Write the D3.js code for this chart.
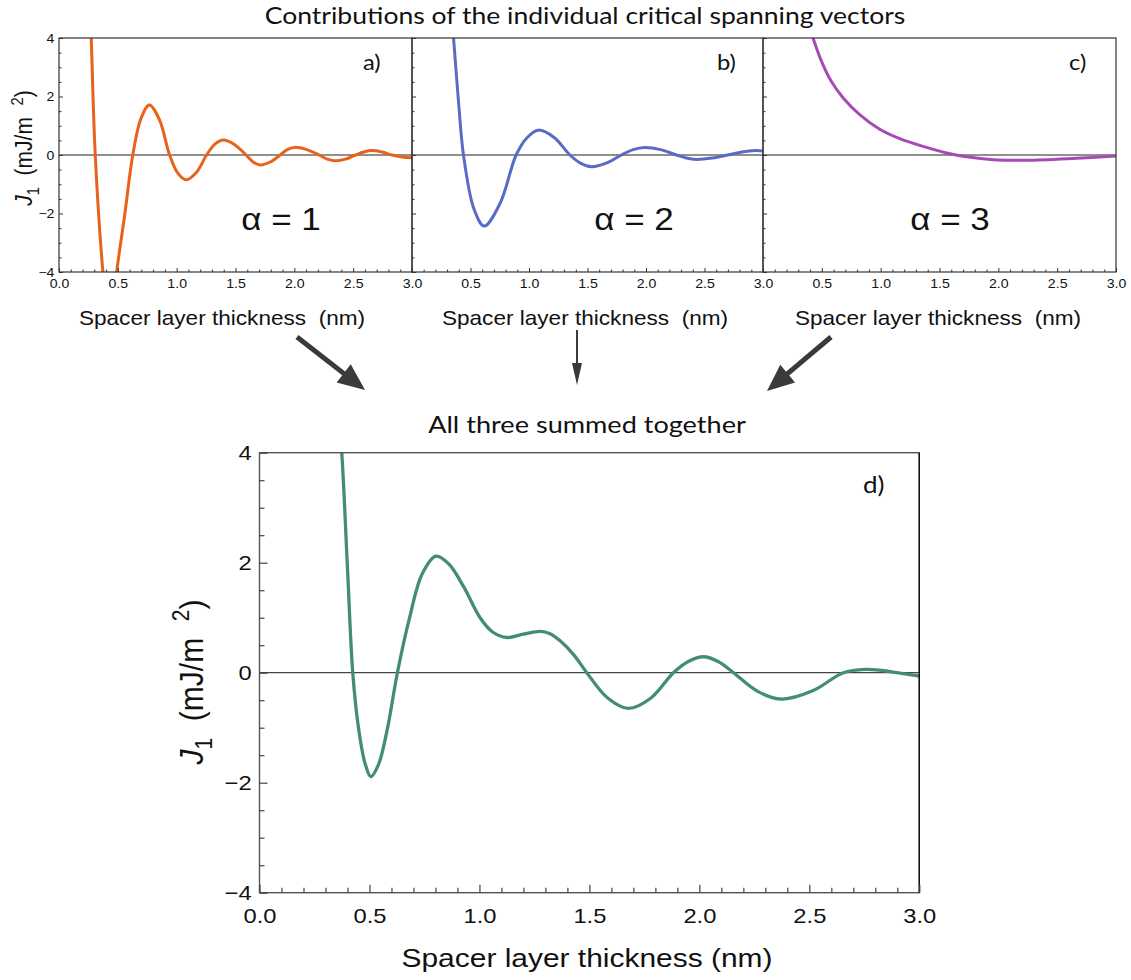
<!DOCTYPE html>
<html><head><meta charset="utf-8">
<script src="https://cdn.jsdelivr.net/npm/d3@7"></script>
<style>body{margin:0;background:#fff} svg{display:block}</style>
</head><body><svg id="c" width="1131" height="980"></svg>
<script>
// ---------- data ----------
const alpha1 = [[0.25,6.8],[0.274,4.0],[0.308,0],[0.373,-4.0],[0.43,-6.2],[0.49,-4.0],[0.56,-2.0],[0.627,0],[0.697,1.25],[0.768,1.71],[0.854,1.2],[0.94,0],[1.01,-0.62],[1.08,-0.85],[1.167,-0.6],[1.254,0],[1.325,0.37],[1.395,0.51],[1.49,0.36],[1.59,0],[1.65,-0.24],[1.71,-0.34],[1.795,-0.24],[1.88,0],[1.94,0.185],[2.0,0.26],[2.105,0.185],[2.21,0],[2.28,-0.14],[2.35,-0.2],[2.435,-0.14],[2.52,0],[2.59,0.105],[2.66,0.15],[2.745,0.105],[2.83,0],[2.915,-0.065],[3.0,-0.09]];
const alpha2 = [[0.33,5.2],[0.355,4.0],[0.40,1.7],[0.44,0],[0.53,-1.85],[0.617,-2.43],[0.753,-1.65],[0.89,0],[0.985,0.6],[1.08,0.85],[1.215,0.6],[1.35,0],[1.44,-0.28],[1.535,-0.40],[1.66,-0.28],[1.79,0],[1.89,0.185],[1.99,0.26],[2.125,0.185],[2.26,0],[2.345,-0.105],[2.43,-0.15],[2.565,-0.105],[2.70,0],[2.82,0.105],[2.94,0.15],[3.0,0.14]];
const alpha3 = [[0.40,4.3],[0.425,4.0],[0.5,3.175],[0.58,2.52],[0.68,1.96],[0.822,1.38],[0.992,0.88],[1.162,0.56],[1.389,0.26],[1.56,0.07],[1.73,-0.06],[1.956,-0.16],[2.24,-0.18],[2.665,-0.11],[3.0,-0.035]];
const summed = [[0.36,4.6],[0.374,4.0],[0.40,1.9],[0.424,0],[0.45,-1.0],[0.48,-1.65],[0.506,-1.89],[0.54,-1.68],[0.58,-1.05],[0.627,0],[0.68,0.96],[0.74,1.8],[0.803,2.12],[0.86,1.98],[0.93,1.55],[1.003,1.0],[1.06,0.74],[1.125,0.64],[1.2,0.7],[1.276,0.75],[1.321,0.71],[1.367,0.58],[1.43,0.32],[1.488,0],[1.583,-0.46],[1.678,-0.65],[1.78,-0.46],[1.882,0],[1.95,0.205],[2.019,0.29],[2.087,0.2],[2.155,0],[2.265,-0.34],[2.375,-0.48],[2.515,-0.33],[2.655,0],[2.754,0.06],[2.83,0.04],[2.898,0],[3.0,-0.06]];

const xMajorTicks = [0, 0.5, 1.0, 1.5, 2.0, 2.5, 3.0];
const yMajorTicks = [-4, -2, 0, 2, 4];
const xDomain = [0, 3];
const yDomain = [-4, 4];
const panelLetters = ["a)", "b)", "c)"];
const alphaLabels = ["α = 1", "α = 2", "α = 3"];
const seriesTop = [alpha1, alpha2, alpha3];
const titleTop = "Contributions of the individual critical spanning vectors";
const titleBottom = "All three summed together";
const xTitleTop = "Spacer layer thickness\u00a0 (nm)";
const xTitle = "Spacer layer thickness (nm)";

// ---------- styles ----------
const colors = ["#E8621C", "#5A6BC6", "#A64BB5"];
const sumColor = "#438E71";
const SX = 1.13; // horizontal stretch of the original figure
const SANS = "'Liberation Sans', Arial, sans-serif";
const LATO = "Lato, 'Noto Sans', sans-serif";
const smooth = d3.curveCatmullRom.alpha(0.5);

const svg = d3.select("#c");
const defs = svg.append("defs");

const xMinor = d3.range(0, 31).map(i => i / 10).filter((v, i) => i % 5 !== 0);
const yMinor = d3.range(-8, 9).map(i => i / 2).filter(v => v % 2 !== 0);

function txt(g, x, y, s, o) {
  const t = g.append("text")
    .attr("transform", `translate(${x},${y}) scale(${SX},1)` + (o.rot ? " rotate(-90)" : ""))
    .attr("text-anchor", o.anchor || "middle")
    .attr("font-family", o.font || SANS)
    .attr("font-size", o.size)
    .attr("fill", o.fill || "#111")
    .style("white-space", "pre");
  if (s !== null) t.text(s);
  return t;
}
function ylabel(g, x, y, size) {
  const t = txt(g, x, y, null, {rot: true, size: size});
  t.append("tspan").attr("font-style", "italic").text("J");
  t.append("tspan").attr("font-size", size * 0.7).attr("dy", size * 0.28).text("1");
  t.append("tspan").attr("dy", -size * 0.28).text("\u00a0 (mJ/m\u00a0 ");
  t.append("tspan").attr("font-size", size * 0.7).attr("dy", -size * 0.4).text("2");
  t.append("tspan").attr("dy", size * 0.4).text(")");
}
function stretchTexts(sel) { sel.selectAll("text").attr("transform", `scale(${SX},1)`); }

// ---------- top panels ----------
const yTop = d3.scaleLinear().domain(yDomain).range([272, 38]);
const topX = [[59, 412], [412, 763], [763, 1116]];
const topTitleX = [222, 585, 938];
const letterX = [363, 717, 1069];
const alphaX = [281, 634, 950];

seriesTop.forEach((data, i) => {
  const x = d3.scaleLinear().domain(xDomain).range(topX[i]);
  const g = svg.append("g");
  const cid = "clip" + i;
  defs.append("clipPath").attr("id", cid).append("rect")
    .attr("x", topX[i][0]).attr("y", 38).attr("width", topX[i][1] - topX[i][0]).attr("height", 272 - 38);
  g.append("line").attr("x1", topX[i][0]).attr("x2", topX[i][1])
    .attr("y1", yTop(0)).attr("y2", yTop(0)).attr("stroke", "#222").attr("stroke-width", 1.1);
  const line = d3.line().x(d => x(d[0])).y(d => yTop(d[1])).curve(smooth);
  g.append("path").datum(data).attr("d", line).attr("clip-path", `url(#${cid})`)
    .attr("fill", "none").attr("stroke", colors[i]).attr("stroke-width", 3);
  g.append("rect").attr("x", topX[i][0]).attr("y", 38).attr("width", topX[i][1] - topX[i][0])
    .attr("height", 272 - 38).attr("fill", "none").attr("stroke", "#333").attr("stroke-width", 1.2);
  const fmt = d3.format(".1f");
  const xa = g.append("g").attr("transform", "translate(0,272)")
    .call(d3.axisBottom(x).tickValues(xMajorTicks).tickSize(-4).tickPadding(7)
      .tickFormat(d => (i > 0 && d === 0) ? "" : fmt(d)));
  xa.select(".domain").remove();
  xa.selectAll("text").attr("font-family", SANS).attr("font-size", 12.5).attr("fill", "#111");
  stretchTexts(xa);
  const xm = g.append("g").attr("transform", "translate(0,272)")
    .call(d3.axisBottom(x).tickValues(xMinor).tickSize(-2.5).tickFormat(""));
  xm.select(".domain").remove();
  const ya = g.append("g").attr("transform", `translate(${topX[i][0]},0)`)
    .call(d3.axisLeft(yTop).tickValues(yMajorTicks).tickSize(-4).tickPadding(4)
      .tickFormat(d => i === 0 ? d3.format("d")(d) : ""));
  ya.select(".domain").remove();
  ya.selectAll("text").attr("font-family", SANS).attr("font-size", 12.5).attr("fill", "#111");
  stretchTexts(ya);
  const ym = g.append("g").attr("transform", `translate(${topX[i][0]},0)`)
    .call(d3.axisLeft(yTop).tickValues(yMinor).tickSize(-2.5).tickFormat(""));
  ym.select(".domain").remove();
  g.selectAll(".tick line").attr("stroke", "#333");
  txt(g, topTitleX[i], 325, xTitleTop, {size: 20});
  txt(g, letterX[i], 70, panelLetters[i], {size: 21, anchor: "start", font: LATO});
  txt(g, alphaX[i], 230, alphaLabels[i], {size: 31});
});
ylabel(svg, 32, 148, 21);
txt(svg, 585, 24, titleTop, {size: 23.5, font: LATO});

// ---------- arrows ----------
const arrows = [
  {x1: 297, y1: 337, x2: 365, y2: 390, w: 5, hl: 27, hw: 23},
  {x1: 577, y1: 330, x2: 577, y2: 385, w: 2, hl: 22, hw: 10},
  {x1: 831, y1: 337, x2: 767, y2: 391, w: 5, hl: 27, hw: 23}
];
arrows.forEach(a => {
  const dx = a.x2 - a.x1, dy = a.y2 - a.y1, L = Math.hypot(dx, dy);
  const ux = dx / L, uy = dy / L, px = -uy, py = ux;
  const bx = a.x2 - ux * a.hl, by = a.y2 - uy * a.hl;
  svg.append("line").attr("x1", a.x1).attr("y1", a.y1).attr("x2", bx + ux * 2).attr("y2", by + uy * 2)
    .attr("stroke", "#3a3a3a").attr("stroke-width", a.w);
  svg.append("polygon").attr("points",
    [[a.x2, a.y2], [bx + px * a.hw / 2, by + py * a.hw / 2], [bx - px * a.hw / 2, by - py * a.hw / 2]].map(p => p.join(",")).join(" "))
    .attr("fill", "#3a3a3a");
});

// ---------- bottom panel ----------
const xB = d3.scaleLinear().domain(xDomain).range([259.5, 919.3]);
const yB = d3.scaleLinear().domain(yDomain).range([892.7, 452.7]);
const gb = svg.append("g");
defs.append("clipPath").attr("id", "clipB").append("rect")
  .attr("x", 259.5).attr("y", 452.7).attr("width", 919.3 - 259.5).attr("height", 892.7 - 452.7);
gb.append("line").attr("x1", 259.5).attr("x2", 919.3).attr("y1", yB(0)).attr("y2", yB(0))
  .attr("stroke", "#444").attr("stroke-width", 1.3);
gb.append("path").datum(summed)
  .attr("d", d3.line().x(d => xB(d[0])).y(d => yB(d[1])).curve(smooth))
  .attr("clip-path", "url(#clipB)").attr("fill", "none").attr("stroke", sumColor).attr("stroke-width", 3.3);
gb.append("rect").attr("x", 259.5).attr("y", 452.7).attr("width", 919.3 - 259.5).attr("height", 892.7 - 452.7)
  .attr("fill", "none").attr("stroke", "#555").attr("stroke-width", 1.4);
gb.append("line").attr("x1", 919.3).attr("x2", 919.3).attr("y1", 452.7).attr("y2", 892.7)
  .attr("stroke", "#111").attr("stroke-width", 1.4);
const bxa = gb.append("g").attr("transform", "translate(0,892.7)")
  .call(d3.axisBottom(xB).tickValues(xMajorTicks).tickSize(-8).tickPadding(15).tickFormat(d3.format(".1f")));
bxa.select(".domain").remove();
bxa.selectAll("text").attr("font-family", SANS).attr("font-size", 21).attr("fill", "#111");
stretchTexts(bxa);
const bxm = gb.append("g").attr("transform", "translate(0,892.7)")
  .call(d3.axisBottom(xB).tickValues(xMinor).tickSize(-5).tickFormat(""));
bxm.select(".domain").remove();
const bya = gb.append("g").attr("transform", "translate(259.5,0)")
  .call(d3.axisLeft(yB).tickValues(yMajorTicks).tickSize(-8).tickPadding(7).tickFormat(d3.format("d")));
bya.select(".domain").remove();
bya.selectAll("text").attr("font-family", SANS).attr("font-size", 21).attr("fill", "#111");
stretchTexts(bya);
const bym = gb.append("g").attr("transform", "translate(259.5,0)")
  .call(d3.axisLeft(yB).tickValues(yMinor).tickSize(-5).tickFormat(""));
bym.select(".domain").remove();
gb.selectAll(".tick line").attr("stroke", "#444").attr("stroke-width", 1.2);
txt(gb, 863, 493, "d)", {size: 23, anchor: "start", font: LATO});
txt(gb, 587, 967, xTitle, {size: 26.5});
ylabel(gb, 203, 682, 30);
txt(svg, 587, 433, titleBottom, {size: 24, font: LATO});
</script>
</body></html>
